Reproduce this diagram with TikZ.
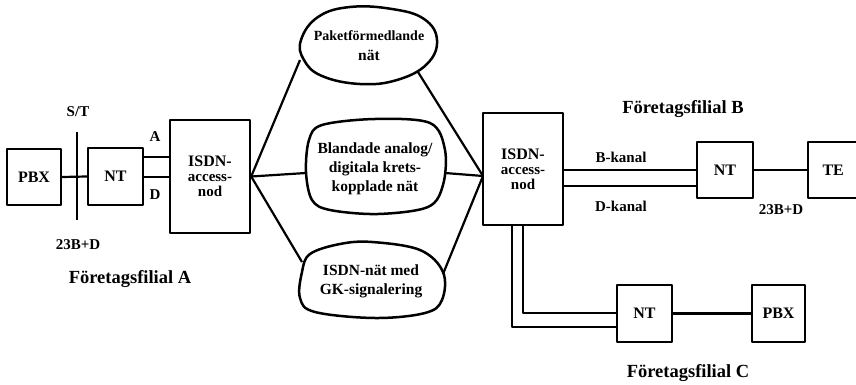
\documentclass[tikz,border=0pt]{standalone}
\usepackage{fontspec}
\setmainfont{Liberation Serif}
\newcommand{\accesstxt}{{\fontsize{15}{15}\selectfont access-}}
\newcommand{\nodtxt}{{\fontsize{15}{15}\selectfont nod}}
\begin{document}
\begin{tikzpicture}[x=1pt,y=-1pt,
  line width=2.2pt, line join=round,
  box/.style={draw, line width=2.4pt, inner sep=0pt, font=\bfseries\fontsize{16}{18}\selectfont, align=center},
  blobtxt/.style={inner sep=0pt, font=\bfseries\fontsize{15.5}{20}\selectfont, align=center},
  lbl/.style={inner sep=0pt, font=\bfseries\fontsize{15}{17}\selectfont},
  title/.style={inner sep=0pt, font=\bfseries\fontsize{18.5}{20}\selectfont},
  blob/.style={draw, line width=2.5pt}]
\useasboundingbox (0,0) rectangle (856,385);

% --- branch A ---
\node[box, minimum width=54pt, minimum height=56pt] (pbxA) at (34,177) {PBX};
\node[box, minimum width=55pt, minimum height=57pt] (ntA) at (115.5,176.5) {NT};
\node[box, minimum width=80pt, minimum height=113pt] (isdnA) at (210,176.5)
  {ISDN-\\[-3pt]\accesstxt\\[-3pt]\nodtxt};
\coordinate (stTop) at (77,132);
\coordinate (stBot) at (77,220);
\draw[line width=2.4pt] (stTop) -- (stBot);
\draw (pbxA.east) -- (ntA.west);
\draw (ntA.east |- 0,157) -- (isdnA.west |- 0,157);
\draw (ntA.east |- 0,177) -- (isdnA.west |- 0,177);
\node[lbl] (stLbl) at (78,112) {S/T};
\node[lbl] (bdA) at (78,245) {23B+D};
\node[lbl] (aLbl) at (155,137) {A};
\node[lbl] (dLbl) at (155,195) {D};
\node[title] (filA) at (130,279) {Företagsfilial A};

% --- networks ---
\draw[blob] plot[smooth cycle, tension=0.7] coordinates
  {(301,40) (318,17) (350,7) (392,9) (424,19) (437,40) (427,64) (397,80) (360,84) (322,76) (304,60)};
\node[blobtxt] (paket) at (369,46) {{\fontsize{14}{14}\selectfont Paketförmedlande}\\nät};
\coordinate (paketL) at (300,60);
\coordinate (paketR) at (418,72);

\draw[blob] plot[smooth cycle, tension=0.55] coordinates
  {(309,140) (322,125) (375,119) (430,123) (445,150) (443,185) (428,207) (378,214) (330,210) (312,200) (306,172)};
\node[blobtxt] (bland) at (375,169) {Blandade analog/\\[-1pt]digitala krets-\\[-1pt]kopplade nät};
\coordinate (blandL) at (306,173);
\coordinate (blandR) at (445,173);

\draw[blob] plot[smooth cycle, tension=0.6] coordinates
  {(310,254) (340,244) (372,242) (420,250) (443,272) (442,300) (425,313) (375,318) (315,312) (300,298) (302,272)};
\node[blobtxt] (isdnNet) at (371,281) {ISDN-nät med\\[-1pt]GK-signalering};
\coordinate (isdnNetL) at (302,262);
\coordinate (isdnNetR) at (443,274);

% --- branch B ---
\node[box, minimum width=80pt, minimum height=112pt] (isdnB) at (523,169)
  {ISDN-\\[-3pt]\accesstxt\\[-3pt]\nodtxt};
\coordinate (hubB) at (483,176);
\node[box, minimum width=56pt, minimum height=56pt] (ntB) at (725,170) {NT};
\node[box, minimum width=50pt, minimum height=56pt, anchor=west] (te) at (807,170) {TE};
\draw (isdnB.east |- 0,170) -- (ntB.west |- 0,170);
\draw (isdnB.east |- 0,186) -- (ntB.west |- 0,186);
\draw (ntB.east) -- (te.west);
\node[lbl] (bkanal) at (621,157) {B-kanal};
\node[lbl] (dkanal) at (621,206) {D-kanal};
\node[lbl] (bdB) at (781,210) {23B+D};
\node[title] (filB) at (683,109) {Företagsfilial B};

% links between access nodes and networks
\draw (isdnA.east) -- (paketL);
\draw (isdnA.east) -- (blandL);
\draw (isdnA.east) -- (isdnNetL);
\draw (paketR) -- (hubB);
\draw (blandR) -- (hubB);
\draw (isdnNetR) -- (hubB);

% --- branch C ---
\node[box, minimum width=55pt, minimum height=57pt] (ntC) at (644.5,313.5) {NT};
\node[box, minimum width=53pt, minimum height=57pt] (pbxC) at (778.5,313.5) {PBX};
\draw (isdnB.south -| 523,0) |- (ntC.west |- 0,313);
\draw (isdnB.south -| 512,0) |- (ntC.west |- 0,327);
\draw (ntC.east) -- (pbxC.west);
\node[title] (filC) at (688,373) {Företagsfilial C};
\end{tikzpicture}
\end{document}
